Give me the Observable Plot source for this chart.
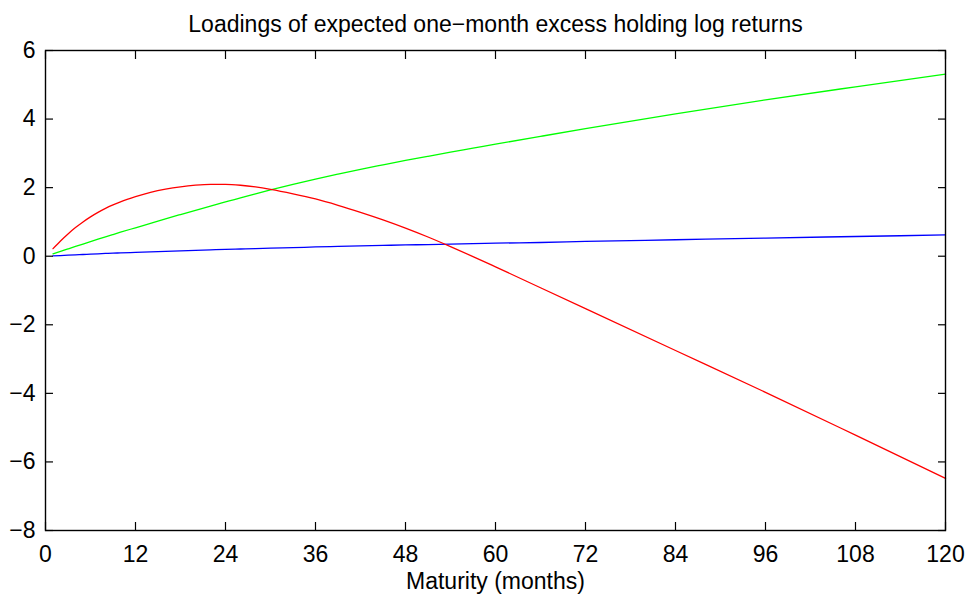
<!DOCTYPE html>
<html>
<head>
<meta charset="utf-8">
<script src="https://cdn.jsdelivr.net/npm/d3@7"></script>
<script src="https://cdn.jsdelivr.net/npm/@observablehq/plot@0.6"></script>
<style>
  html, body { margin: 0; padding: 0; background: #fff; }
  svg { display: block; }
</style>
</head>
<body>
<div id="chart"></div>
<script>
const titleText = "Loadings of expected one\u2212month excess holding log returns";
const xLabel = "Maturity (months)";
const xTicks = [0, 12, 24, 36, 48, 60, 72, 84, 96, 108, 120];
const yTicks = [-8, -6, -4, -2, 0, 2, 4, 6];

const maturity = [1, 2, 3, 4, 5, 6, 7, 8, 9, 10, 12, 14, 16, 18, 20, 22, 24, 26, 28, 30, 33, 36, 39, 42, 45, 48, 51, 54, 57, 60, 66, 72, 84, 96, 108, 120];
const redLoad = [0.22, 0.445, 0.65, 0.835, 1.00, 1.148, 1.28, 1.395, 1.495, 1.585, 1.735, 1.86, 1.955, 2.025, 2.072, 2.095, 2.095, 2.07, 2.02, 1.95, 1.82, 1.67, 1.485, 1.28, 1.06, 0.82, 0.56, 0.28, -0.01, -0.31, -0.92, -1.53, -2.75, -3.97, -5.22, -6.48];
const greenLoad = [0.07, 0.14, 0.213, 0.285, 0.355, 0.425, 0.495, 0.565, 0.633, 0.70, 0.83, 0.96, 1.09, 1.215, 1.338, 1.46, 1.585, 1.70, 1.818, 1.933, 2.095, 2.25, 2.395, 2.535, 2.665, 2.793, 2.915, 3.034, 3.15, 3.267, 3.495, 3.72, 4.15, 4.56, 4.94, 5.31];
const blueLoad = [0.01, 0.02, 0.03, 0.04, 0.05, 0.06, 0.07, 0.08, 0.09, 0.095, 0.11, 0.125, 0.14, 0.155, 0.17, 0.185, 0.20, 0.21, 0.22, 0.235, 0.25, 0.27, 0.285, 0.30, 0.315, 0.33, 0.34, 0.355, 0.365, 0.38, 0.40, 0.43, 0.48, 0.53, 0.575, 0.62];

const series = [
  {name: "blue", color: "#0000ff", values: blueLoad},
  {name: "green", color: "#00ff00", values: greenLoad},
  {name: "red", color: "#ff0000", values: redLoad}
];
const rows = series.flatMap(s => maturity.map((m, i) => ({m, v: s.values[i], s: s.name, c: s.color})));

const font = "'Liberation Sans', Arial, Helvetica, sans-serif";
const fs = 23;

const chart = Plot.plot({
  width: 969,
  height: 596,
  marginLeft: 45,
  marginRight: 24,
  marginTop: 50,
  marginBottom: 66,
  style: {fontFamily: font, fontSize: fs + "px", color: "black", background: "white"},
  x: {domain: [0, 120]},
  y: {domain: [-8, 6]},
  marks: [
    Plot.lineY(rows, {x: "m", y: "v", z: "s", stroke: "c", strokeWidth: 1.3, curve: "monotone-x"}),
    Plot.frame({stroke: "black", strokeWidth: 1.4}),
    Plot.axisX({anchor: "bottom", ticks: xTicks, tickSize: -8, tickPadding: 23, label: null, fontSize: fs, strokeWidth: 1.2}),
    Plot.axisX({anchor: "top", ticks: xTicks, tickSize: -8, tickFormat: () => "", label: null, strokeWidth: 1.2}),
    Plot.axisY({anchor: "left", ticks: yTicks, tickSize: -8, tickPadding: 18, label: null, fontSize: fs, strokeWidth: 1.2}),
    Plot.axisY({anchor: "right", ticks: yTicks, tickSize: -8, tickFormat: () => "", label: null, strokeWidth: 1.2}),
    Plot.text([titleText], {frameAnchor: "top", lineAnchor: "bottom", dy: -19, fontSize: fs, fill: "black"}),
    Plot.text([xLabel], {frameAnchor: "bottom", lineAnchor: "bottom", dy: 58, fontSize: fs, fill: "black"})
  ]
});
document.getElementById("chart").appendChild(chart);
</script>
</body>
</html>
